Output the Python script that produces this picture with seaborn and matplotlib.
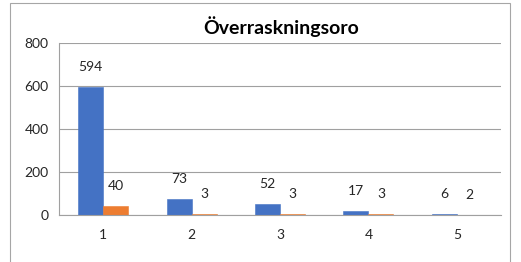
import matplotlib
matplotlib.use("Agg")
import matplotlib.pyplot as plt
import matplotlib.patches as mpatches
import seaborn as sns
import pandas as pd
import numpy as np

# data
categories = ["1", "2", "3", "4", "5"]
series_a = [594, 73, 52, 17, 6]
series_b = [40, 3, 3, 3, 2]
series_names = ["Serie1", "Serie2"]
colors = ["#4472C4", "#ED7D31"]

df = pd.DataFrame({
    "kategori": categories * 2,
    "antal": series_a + series_b,
    "serie": [series_names[0]] * len(categories) + [series_names[1]] * len(categories),
})

sns.set_style("white")
plt.rcParams["font.family"] = ["Lato", "DejaVu Sans"]

fig = plt.figure(figsize=(5.21, 2.62), dpi=100)
ax = fig.add_axes([0.1132, 0.1794, 0.8484, 0.6565])

sns.barplot(data=df, x="kategori", y="antal", hue="serie", order=categories,
            hue_order=series_names, palette=colors, width=0.566, gap=0,
            saturation=1, legend=False, ax=ax)

# thin edge in bar colour so the tiny bars still show as a line
for container, c in zip(ax.containers, colors):
    for bar in container:
        bar.set_edgecolor(c)
        bar.set_linewidth(0.4)

# value labels above each bar
for container in ax.containers:
    for bar in container:
        h = bar.get_height()
        ax.annotate(f"{h:.0f}", (bar.get_x() + bar.get_width() / 2, h),
                    xytext=(0, 14.4), textcoords="offset points",
                    ha="center", va="center", fontsize=10, color="#262626")

ax.set_ylim(0, 800)
ax.set_yticks([0, 200, 400, 600, 800])
ax.set_xlim(-0.5, len(categories) - 0.5)
ax.set_xlabel("")
ax.set_ylabel("")

ax.grid(axis="y", color="#A0A0A0", linewidth=0.8)
ax.set_axisbelow(True)
for side in ["top", "right"]:
    ax.spines[side].set_visible(False)
for side in ["left", "bottom"]:
    ax.spines[side].set_color("#A0A0A0")
    ax.spines[side].set_linewidth(0.8)

ax.tick_params(axis="y", length=4.3, width=0.8, color="#A0A0A0",
               labelsize=10, labelcolor="#262626", pad=3)
ax.tick_params(axis="x", which="major", length=0, labelsize=10,
               labelcolor="#262626", pad=10)
ax.set_xticks(np.arange(-0.5, len(categories), 1.0), minor=True)
ax.tick_params(axis="x", which="minor", length=3, width=0.8, color="#A0A0A0")

fig.text(0.540, 0.897, "Överraskningsoro", ha="center", va="center",
         fontsize=14, fontweight="bold", color="#000000")

# chart border
fig.patches.append(mpatches.Rectangle((10 / 521, -0.1), 500 / 521, 0.1 + 259 / 262,
                                      transform=fig.transFigure, fill=False,
                                      edgecolor="#A6A6A6", linewidth=0.8))

fig.savefig("out.png", dpi=100)
